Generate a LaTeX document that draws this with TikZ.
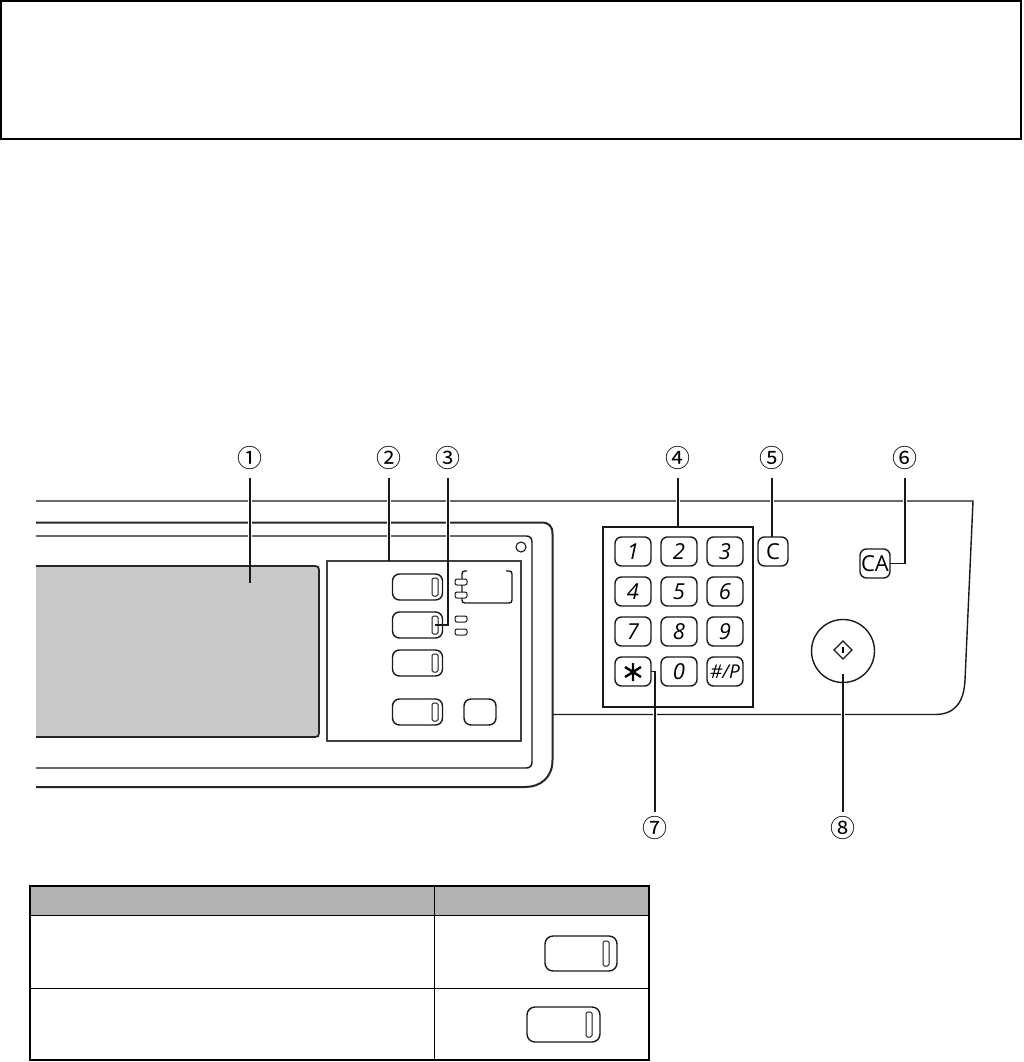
\documentclass[tikz,border=0pt]{standalone}
\usepackage{fontspec}
\setmainfont{Open Sans}
\newfontfamily\circfont{Noto Sans CJK JP}
\usetikzlibrary{shapes.geometric}
\tikzset{
  ink/.style={line width=1.4pt,draw=black!90},
  heavy/.style={line width=1.8pt,draw=black!85},
  keybtn/.style={ink,rounded corners=6.5pt,rectangle,anchor=north west,inner sep=0pt,outer sep=0pt,minimum width=36pt,minimum height=29pt,font=\fontsize{22}{22}\selectfont\itshape},
  sidebtn/.style={keybtn,minimum width=30pt,font=\fontsize{22}{22}\selectfont},
  modebtn/.style={ink,rounded corners=7pt,rectangle,anchor=north west,inner sep=0pt,outer sep=0pt,minimum width=50pt,minimum height=26pt},
  slot/.style={line width=1pt,draw=black!90,rounded corners=1.5pt,rectangle,anchor=north west,inner sep=0pt,outer sep=0pt,minimum width=6pt,minimum height=18pt},
  led/.style={line width=1pt,draw=black!90,fill=white,rounded corners=2pt,rectangle,anchor=north west,inner sep=0pt,outer sep=0pt,minimum width=12pt,minimum height=6pt},
  callout/.style={inner sep=0pt,outer sep=0pt,minimum width=30pt,minimum height=40pt,font=\circfont\fontsize{25}{25}\selectfont},
  lowcall/.style={callout,minimum height=32pt},
  leader/.style={line width=1.7pt,draw=black!90},
  halo/.style={line width=4pt,draw=white},
  plainbox/.style={rectangle,anchor=north west,inner sep=0pt,outer sep=0pt},
}
\begin{document}
\begin{tikzpicture}[x=1pt,y=-1pt]
\useasboundingbox (0,0) rectangle (1023,1062);
% top box
\node[plainbox,draw=black,line width=2pt,minimum width=1020pt,minimum height=138pt] (topbox) at (1,1) {};
% control panel outline
\draw[ink] (36,501) -- (973,501) -- (965,680) .. controls (964,702) and (955,714.5) .. (935,714.5) -- (552,714.5);
% bezel
\draw[heavy,line width=2pt,fill=white] (36,522.5) -- (541,522.5) .. controls (549,522.5) and (552.5,526) .. (552.5,534) -- (552.5,760) .. controls (552.5,778) and (540,787) .. (525,787) -- (36,787);
\draw[ink] (36,536) -- (526,536) .. controls (530,536) and (532,538) .. (532,542) -- (532,762) .. controls (532,766) and (530,768) .. (526,768) -- (36,768);
% screen
\fill[fill=black!21] (36,566) -- (315,566) .. controls (318,566) and (319,567) .. (319,570) -- (319,733) .. controls (319,736) and (318,737) .. (315,737) -- (36,737) -- cycle;
\draw[heavy] (36,566) -- (315,566) .. controls (318,566) and (319,567) .. (319,570) -- (319,733) .. controls (319,736) and (318,737) .. (315,737) -- (36,737);
\coordinate (screenend) at (250,583);
% mode group
\node[plainbox,draw=black!75,line width=1.8pt,minimum width=194pt,minimum height=180pt] (group) at (327,561) {};
\node[modebtn] (b1) at (392.5,574) {};
\node[modebtn] (b2) at (392.5,612) {};
\node[modebtn] (b3) at (392.5,650) {};
\node[modebtn] (b4) at (392.5,699) {};
\node[slot] (s1) at (432,578) {};
\node[slot] (s2) at (432,616) {};
\node[slot] (s3) at (432,654) {};
\node[slot] (s4) at (432,703) {};
\node[ink,rounded corners=7pt,rectangle,anchor=north west,minimum width=32pt,minimum height=26pt,inner sep=0pt,outer sep=0pt] (b5) at (464,699) {};
\draw[ink] (467,571) -- (465,571) .. controls (463,571) and (462,572) .. (462,574) -- (462,600) .. controls (462,602) and (463,603) .. (465,603) -- (509,603) .. controls (511,603) and (512,602) .. (512,600) -- (512,574) .. controls (512,572) and (511,571) .. (509,571) -- (506,571);
\node[led] (l1) at (455,579) {};
\node[led] (l2) at (455,592) {};
\node[led] (l3) at (455,616) {};
\node[led] (l4) at (455,629) {};
\node[ink,line width=1.1pt,circle,inner sep=0pt,outer sep=0pt,minimum size=10pt] (lamp) at (521,547) {};
% keypad
\node[plainbox,draw=black!90,line width=2pt,minimum width=150pt,minimum height=180pt] (pad) at (603,527) {};
\node[keybtn] (k1) at (615,537) {1};
\node[keybtn] (k2) at (661,537) {2};
\node[keybtn] (k3) at (707,537) {3};
\node[keybtn] (k4) at (615,577) {4};
\node[keybtn] (k5) at (661,577) {5};
\node[keybtn] (k6) at (707,577) {6};
\node[keybtn] (k7) at (615,617) {7};
\node[keybtn] (k8) at (661,617) {8};
\node[keybtn] (k9) at (707,617) {9};
\node[keybtn] (kstar) at (615,657) {};
\draw[line width=2.4pt] (633,663) -- (633,681) (625,667) -- (641,677) (625,677) -- (641,667);
\node[keybtn] (k0) at (661,657) {0};
\node[keybtn,font=\fontsize{19}{19}\selectfont\itshape] (khash) at (707,657) {\#/P};
\node[sidebtn] (kc) at (758,537) {C};
\node[sidebtn] (kca) at (860,549) {CA};
\node[ink,circle,inner sep=0pt,outer sep=0pt,minimum size=63pt] (start) at (843,651) {};
\node[ink,line width=1.1pt,diamond,inner sep=0pt,outer sep=0pt,minimum size=18pt] (startmark) at (843,650) {};
\draw[line width=1.3pt] (843,647) -- (843,653);
\coordinate (startend) at (843,674);
% callouts
\node[callout] (n1) at (250,458) {①};
\node[callout] (n2) at (389,458) {②};
\node[callout] (n3) at (448,458) {③};
\node[callout] (n4) at (678,458) {④};
\node[callout] (n5) at (772,458) {⑤};
\node[callout] (n6) at (905,458) {⑥};
\node[lowcall] (n7) at (655,828) {⑦};
\node[lowcall] (n8) at (843,828) {⑧};
% white halos where the leaders cross the panel lines
\draw[halo] (n1.south) -- (250,560);
\draw[halo] (n2.south) -- (389,558);
\draw[halo] (n3.south) -- (448,560);
\draw[halo] (n4.south) -- (678,525);
\draw[halo] (n5.south) -- (772,535);
\draw[halo] (n6.south) -- (905,560);
\draw[halo] (n7.north) -- (655,710);
\draw[halo] (n8.north) -- (843,690);
\draw[leader] (n1.south) -- (screenend);
\draw[leader] (n2.south) -- (n2.south |- group.north);
\draw[leader] (n3.south) |- (s2.center);
\draw[leader] (n4.south) -- (n4.south |- pad.north);
\draw[leader] (n5.south) -- (n5.south |- kc.north);
\draw[leader] (n6.south) |- (kca.east);
\draw[leader] (n7.north) |- (kstar.east);
\draw[leader] (n8.north) -- (startend);
% table
\node[plainbox,fill=black!30,minimum width=619pt,minimum height=29pt] (thead) at (30,886) {};
\node[plainbox,draw=black,line width=2pt,minimum width=619pt,minimum height=174pt] (tbl) at (30,886) {};
\coordinate (hl) at (30,915); \coordinate (hr) at (649,915);
\coordinate (rl) at (30,988); \coordinate (rr) at (649,988);
\coordinate (ct) at (434,886); \coordinate (cb) at (434,1060);
\draw[line width=1pt] (hl) -- (hr) (rl) -- (rr) (ct) -- (cb);
\node[modebtn,minimum width=72pt,minimum height=35pt,rounded corners=8pt] (t1) at (545,936) {};
\node[slot,minimum height=25pt] (ts1) at (603,941) {};
\node[modebtn,minimum width=73pt,minimum height=35pt,rounded corners=8pt] (t2) at (527,1007) {};
\node[slot,minimum height=25pt] (ts2) at (586,1012) {};
\end{tikzpicture}
\end{document}
